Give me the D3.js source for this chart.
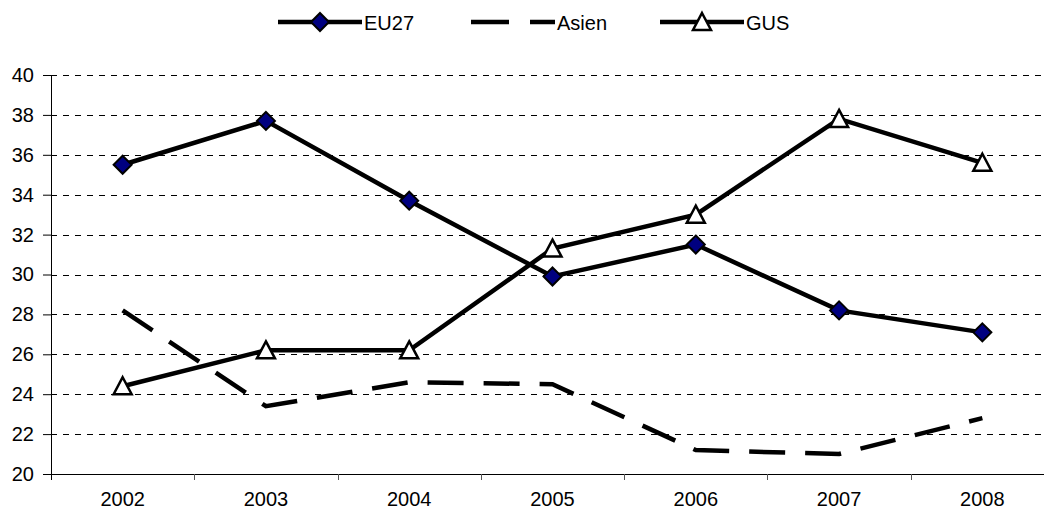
<!DOCTYPE html>
<html>
<head>
<meta charset="utf-8">
<script src="https://cdn.jsdelivr.net/npm/d3@7"></script>
<style>
  body { margin: 0; background: #fff; }
  svg { display: block; font-family: "Liberation Sans", Arial, sans-serif; }
</style>
</head>
<body>
<svg id="chart" width="1044" height="514"></svg>
<script>
// data
var years = ['2002', '2003', '2004', '2005', '2006', '2007', '2008'];
var eu27  = [35.5, 37.7, 33.7, 29.9, 31.5, 28.2, 27.1];
var asien = [28.2, 23.4, 24.6, 24.5, 21.2, 21.0, 22.8];
var gus   = [24.4, 26.2, 26.2, 31.3, 33.0, 37.8, 35.6];
var yTicks = [20, 22, 24, 26, 28, 30, 32, 34, 36, 38, 40];

var series = [
    {name: 'EU27', values: eu27, marker: 'diamond', dash: null},
    {name: 'Asien', values: asien, marker: null, dash: '36,20'},
    {name: 'GUS', values: gus, marker: 'triangle', dash: null}
];

var svg = d3.select('#chart');
// plot box (note: "top" is reserved on window)
var plotLeft = 51, plotRight = 1054, plotTop = 75, plotBottom = 474;

var x = d3.scaleBand().domain(years).range([plotLeft, plotRight]);
var y = d3.scaleLinear().domain([20, 40]).range([plotBottom, plotTop]);

// gridlines
svg.append('g')
    .selectAll('line')
    .data(yTicks.filter(d => d > 20)).enter()
    .append('line')
        .attr('x1', plotLeft).attr('x2', 1044)
        .attr('y1', d => Math.round(y(d)) + 0.5).attr('y2', d => Math.round(y(d)) + 0.5)
        .attr('stroke', '#000')
        .attr('stroke-width', 1)
        .attr('stroke-dasharray', '6,6');

// y axis
var yAxis = svg.append('g')
    .attr('transform', 'translate(' + plotLeft + ',0)')
    .call(d3.axisLeft(y).tickValues(yTicks).tickSize(8).tickPadding(9).tickSizeOuter(0));
yAxis.select('.domain').attr('stroke', '#000').attr('d', 'M0.5,' + plotTop + 'V' + (plotBottom + 6));
yAxis.selectAll('.tick line').attr('stroke', '#000');
yAxis.selectAll('text').style('font-size', '20px').attr('fill', '#000');

// x axis
var xAxis = svg.append('g')
    .attr('transform', 'translate(0,' + plotBottom + ')')
    .call(d3.axisBottom(x).tickSize(0));
xAxis.select('.domain').attr('stroke', '#000').attr('d', 'M' + plotLeft + ',0.5H1044');
xAxis.selectAll('text')
    .style('font-size', '20px').attr('fill', '#000')
    .attr('y', 32).attr('dy', 0);
svg.append('g')
    .selectAll('line')
    .data(years.slice(1)).enter()
    .append('line')
        .attr('x1', d => Math.round(x(d)) + 0.5).attr('x2', d => Math.round(x(d)) + 0.5)
        .attr('y1', plotBottom).attr('y2', plotBottom + 6)
        .attr('stroke', '#555');

var cx = d => x(d) + x.bandwidth() / 2;
var line = d3.line().x((d, i) => cx(years[i])).y(d => y(d));

function drawMarker(g, type, px, py) {
    if (type === 'diamond') {
        g.append('path')
            .attr('d', 'M' + px + ',' + (py - 9) + 'L' + (px + 9) + ',' + py + 'L' + px + ',' + (py + 9) + 'L' + (px - 9) + ',' + py + 'Z')
            .attr('fill', '#000080').attr('stroke', '#000').attr('stroke-width', 2);
    } else if (type === 'triangle') {
        g.append('path')
            .attr('d', 'M' + px + ',' + (py - 9) + 'L' + (px + 9) + ',' + (py + 8) + 'L' + (px - 9) + ',' + (py + 8) + 'Z')
            .attr('fill', '#fff').attr('stroke', '#000').attr('stroke-width', 2.5);
    }
}

series.forEach(s => {
    var g = svg.append('g');
    g.append('path')
        .datum(s.values)
        .attr('d', line)
        .attr('fill', 'none')
        .attr('stroke', '#000')
        .attr('stroke-width', 4.5)
        .attr('stroke-dasharray', s.dash);
    if (s.marker)
        s.values.forEach((v, i) => drawMarker(g, s.marker, cx(years[i]), y(v)));
});

// legend
var legendX = [278, 471, 660];
var legendY = 22;
series.forEach((s, i) => {
    var g = svg.append('g');
    var x0 = legendX[i];
    g.append('line')
        .attr('x1', x0).attr('x2', x0 + 84)
        .attr('y1', legendY).attr('y2', legendY)
        .attr('stroke', '#000').attr('stroke-width', 4.5)
        .attr('stroke-dasharray', s.dash ? '38,21' : null);
    if (s.marker) drawMarker(g, s.marker, x0 + 42, legendY);
    g.append('text')
        .attr('x', x0 + 86).attr('y', 30)
        .style('font-size', '20px')
        .text(s.name);
});
</script>
</body>
</html>
